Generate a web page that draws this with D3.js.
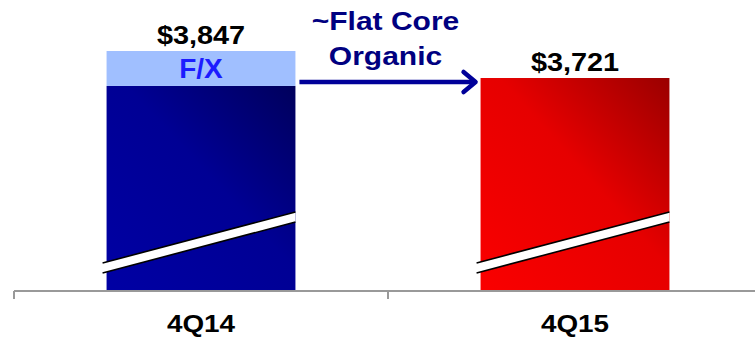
<!DOCTYPE html>
<html>
<head>
<meta charset="utf-8">
<script src="https://cdn.jsdelivr.net/npm/d3@7"></script>
<style>
  html, body { margin: 0; padding: 0; background: #fff; }
  svg { display: block; font-family: "Liberation Sans", Arial, sans-serif; }
</style>
</head>
<body>
<svg id="chart" width="755" height="337"></svg>
<script>
// Quarterly revenue ($M), broken value axis
const categories = ["4Q14", "4Q15"];
const totals = [3847, 3721];
const fxImpact = [163, 0];          // currency effect sitting on top of the prior-year bar
const valueLabels = ["$3,847", "$3,721"];
const fxLabel = "F/X";
const bridgeLabel = ["~Flat Core", "Organic"];

const svg = d3.select("#chart");
const W = 755, H = 337;
const axisY = 291;

const x = d3.scaleBand()
  .domain(categories)
  .range([14, 762])
  .paddingInner(0.495)
  .paddingOuter(0.2475);

// truncated value axis: bars start well above zero
const y = d3.scaleLinear()
  .domain([2732, 3847])
  .range([290, 51]);

const defs = svg.append("defs");
const grads = [
  { id: "gBlue", stops: ["#0000a4", "#000094", "#00005c"] },
  { id: "gRed", stops: ["#fa0000", "#e60000", "#9a0000"] }
];
grads.forEach(g => {
  const lg = defs.append("linearGradient").attr("id", g.id)
    .attr("x1", 0).attr("y1", 1).attr("x2", 1).attr("y2", 0);
  lg.append("stop").attr("offset", "0%").attr("stop-color", g.stops[0]);
  lg.append("stop").attr("offset", "55%").attr("stop-color", g.stops[1]);
  lg.append("stop").attr("offset", "100%").attr("stop-color", g.stops[2]);
});

const bw = x.bandwidth();
const bars = categories.map((c, i) => ({
  cat: c,
  total: totals[i],
  fx: fxImpact[i],
  core: totals[i] - fxImpact[i],
  label: valueLabels[i],
  fill: `url(#${grads[i].id})`
}));

// core bars
svg.selectAll("rect.core").data(bars).join("rect")
  .attr("class", "core")
  .attr("x", d => x(d.cat))
  .attr("width", bw)
  .attr("y", d => y(d.core))
  .attr("height", d => y.range()[0] - y(d.core))
  .attr("fill", d => d.fill);

// F/X segment
const fxBars = bars.filter(d => d.fx > 0);
svg.selectAll("rect.fx").data(fxBars).join("rect")
  .attr("class", "fx")
  .attr("x", d => x(d.cat))
  .attr("width", bw)
  .attr("y", d => y(d.total))
  .attr("height", d => y(d.core) - y(d.total))
  .attr("fill", "#a0bfff");

svg.selectAll("text.fxlab").data(fxBars).join("text")
  .attr("class", "fxlab")
  .attr("x", d => x(d.cat) + bw / 2)
  .attr("y", d => (y(d.total) + y(d.core)) / 2 + 10)
  .attr("text-anchor", "middle")
  .attr("font-size", 28)
  .attr("font-weight", "bold")
  .attr("fill", "#1c1cff")
  .text(fxLabel);

// axis-break stripes across each bar
const base = y.range()[0];
bars.forEach(d => {
  const x0 = x(d.cat) - 4, x1 = x(d.cat) + bw;
  const yl = base - 27, yr = base - 78, t = 10;
  svg.append("polygon")
    .attr("points", [[x0, yl], [x1, yr], [x1, yr + t], [x0, yl + t]].map(p => p.join(",")).join(" "))
    .attr("fill", "#fff");
  [0, t].forEach(o => {
    svg.append("line")
      .attr("x1", x0).attr("y1", yl + o)
      .attr("x2", x1).attr("y2", yr + o)
      .attr("stroke", "#000").attr("stroke-width", 1.6);
  });
});

// total labels
svg.selectAll("text.val").data(bars).join("text")
  .attr("class", "val")
  .attr("transform", d => `translate(${x(d.cat) + bw / 2},${y(d.total) - 7}) scale(1.11,1)`)
  .attr("text-anchor", "middle")
  .attr("font-size", 26)
  .attr("font-weight", "bold")
  .attr("fill", "#000")
  .text(d => d.label);

// bridge arrow between the two quarters
const ax0 = x(categories[0]) + bw + 4;
const ax1 = x(categories[1]) - 5;
const ay = y(totals[1]) + 4;
const navy = "#000099";
svg.append("line")
  .attr("x1", ax0).attr("y1", ay).attr("x2", ax1 - 2).attr("y2", ay)
  .attr("stroke", navy).attr("stroke-width", 4.5);
svg.append("path")
  .attr("d", `M${ax1 - 12},${ay - 10} L${ax1},${ay} L${ax1 - 12},${ay + 10}`)
  .attr("fill", "none").attr("stroke", navy).attr("stroke-width", 4.5)
  .attr("stroke-linecap", "round").attr("stroke-linejoin", "round");

const bx = (ax0 + ax1) / 2 - 2;
bridgeLabel.forEach((t, i) => {
  svg.append("text")
    .attr("transform", `translate(${bx},${30 + i * 35}) scale(1.2,1)`)
    .attr("text-anchor", "middle")
    .attr("font-size", 25)
    .attr("font-weight", "bold")
    .attr("fill", "#000080")
    .text(t);
});

// category axis: line plus ticks at band boundaries
const step = x.step();
const r0 = x.range()[0];
const gAxis = svg.append("g").attr("transform", `translate(0,${axisY})`);
gAxis.append("line")
  .attr("x1", r0).attr("x2", W).attr("y1", 0).attr("y2", 0)
  .attr("stroke", "#999").attr("stroke-width", 2);
d3.range(categories.length + 1).forEach(i => {
  const tx = r0 + i * step;
  if (tx > W) return;
  gAxis.append("line")
    .attr("x1", tx).attr("x2", tx).attr("y1", 0).attr("y2", 8)
    .attr("stroke", "#999").attr("stroke-width", 2);
});

const labels = svg.append("g").attr("transform", `translate(0,${axisY})`)
  .call(d3.axisBottom(x).tickSize(0).tickPadding(0));
labels.select(".domain").remove();
labels.selectAll(".tick text")
  .attr("y", 0).attr("dy", 0)
  .attr("transform", "translate(0,41) scale(1.16,1)")
  .attr("font-size", 24)
  .attr("font-weight", "bold")
  .attr("font-family", "'Liberation Sans', Arial, sans-serif")
  .attr("fill", "#000");
</script>
</body>
</html>
